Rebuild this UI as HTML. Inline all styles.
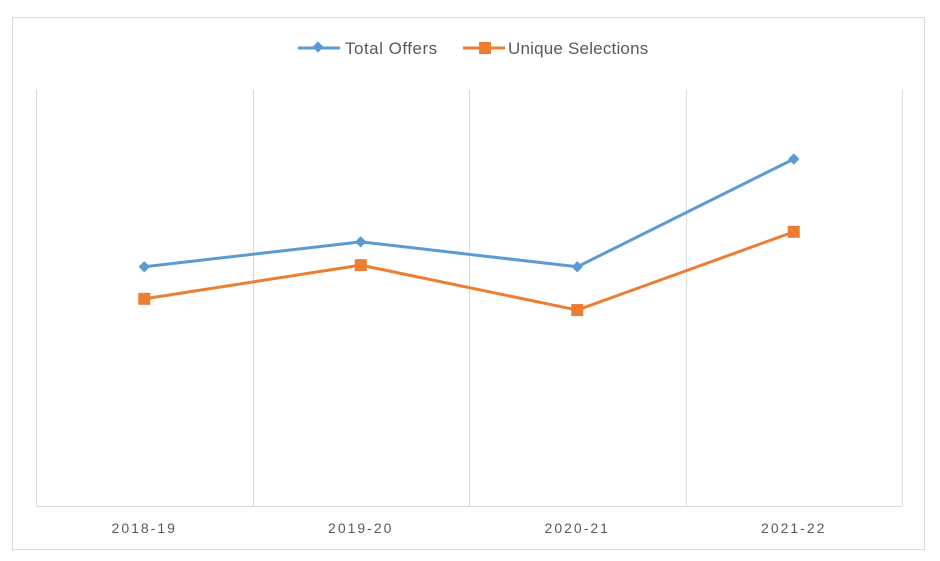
<!DOCTYPE html>
<html><head><meta charset="utf-8"><style>
html,body{margin:0;padding:0;background:#fff;width:940px;height:561px;overflow:hidden}
text{font-family:"Liberation Sans",sans-serif}
</style></head><body>
<svg id="chart" width="940" height="561">
<rect x="12.5" y="17.5" width="912" height="532" fill="#fff" stroke="#d9d9d9"/>
<g id="grid"></g>
<g id="series"></g>
<g id="xlabels"></g>
<g>
 <g>
  <line x1="298" y1="48" x2="340" y2="48" stroke="#5b9bd5" stroke-width="3"/>
  <rect x="314" y="43" width="8" height="8" fill="#5b9bd5" transform="rotate(45 318 47)"/>
  <text x="345" y="54" font-size="17" letter-spacing="0.5" fill="#595959">Total Offers</text>
 </g>
 <g>
  <line x1="463" y1="48" x2="505" y2="48" stroke="#ed7d31" stroke-width="3"/>
  <rect x="479" y="42" width="12" height="12" fill="#ed7d31"/>
  <text x="508" y="54" font-size="17" letter-spacing="0.2" fill="#595959">Unique Selections</text>
 </g>
</g>
</svg>
<script>
const categories=["2018-19","2019-20","2020-21","2021-22"];
const totalOffers=[57.5,63.5,57.5,83.4];
const uniqueSelections=[49.8,57.9,47.1,65.9];
const NS="http://www.w3.org/2000/svg";
const L=36,R=902,T=90,B=506,maxV=100;
const band=(R-L)/categories.length;
const xs=i=>L+band*(i+0.5);
const ys=v=>B-(v/maxV)*(B-T);
function mk(t,a,p){const e=document.createElementNS(NS,t);for(const k in a)e.setAttribute(k,a[k]);p.appendChild(e);return e;}
const grid=document.getElementById('grid');
for(let i=0;i<=categories.length;i++){
 const gx=Math.round(L+band*i)+0.5;
 const g=mk('line',{x1:gx,x2:gx,y1:T,y2:B,stroke:'#d9d9d9','stroke-width':1},grid);
 
 
}
const ax=mk('line',{x1:L,x2:R,y1:B+0.5,y2:B+0.5,stroke:'#d9d9d9','stroke-width':1},grid);


const xl=document.getElementById('xlabels');
categories.forEach((c,i)=>{
 const t=mk('text',{x:xs(i),y:533,'text-anchor':'middle','font-size':14,'letter-spacing':'2',fill:'#595959'},xl);
 t.textContent=c;
 
 
});
const sg=document.getElementById('series');
function drawSeries(vals,color,shape,name){
 const pts=vals.map((v,i)=>xs(i)+','+ys(v)).join(' ');
 const pl=mk('polyline',{points:pts,fill:'none',stroke:color,'stroke-width':3,'stroke-linejoin':'round'},sg);
 
 
 vals.forEach((v,i)=>{
  let m;
  if(shape==='diamond'){m=mk('rect',{x:xs(i)-4,y:ys(v)-4,width:8,height:8,fill:color,transform:`rotate(45 ${xs(i)} ${ys(v)})`},sg);}
  else{m=mk('rect',{x:xs(i)-6,y:ys(v)-6,width:12,height:12,fill:color},sg);}
  
  
 });
}
drawSeries(totalOffers,'#5b9bd5','diamond','total-offers');
drawSeries(uniqueSelections,'#ed7d31','square','unique-selections');
</script>
</body></html>
